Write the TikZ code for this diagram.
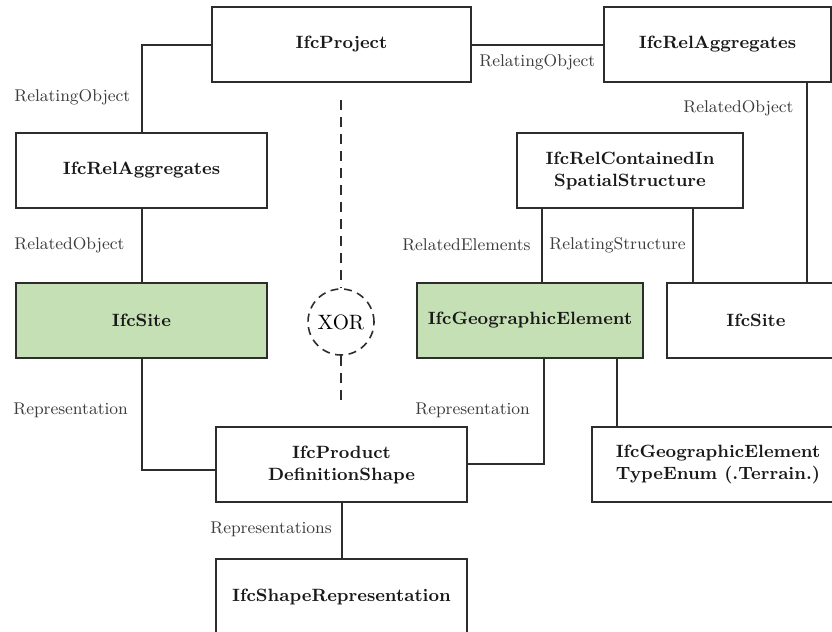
\documentclass[tikz,border=0pt]{standalone}
\usepackage{xcolor}
\definecolor{sitegreen}{RGB}{197,224,180}
\definecolor{linegray}{RGB}{45,45,45}
\definecolor{labelgray}{RGB}{60,60,60}
\begin{document}
\begin{tikzpicture}[x=0.5pt,y=-0.5pt,
  entity/.style={draw=linegray, line width=1pt, fill=white, inner sep=0pt, outer sep=0pt,
    minimum height=37.5pt, align=center, text=black!90,
    font=\fontsize{8.9}{11}\selectfont\bfseries},
  green/.style={fill=sitegreen},
  conn/.style={draw=linegray, line width=1pt},
  role/.style={inner sep=0pt, text=labelgray, font=\fontsize{8.5}{11}\selectfont},
  xorline/.style={draw=linegray, line width=1pt, dash pattern=on 5pt off 3.5pt},
  xorcircle/.style={circle, draw=linegray, line width=0.8pt, dash pattern=on 4pt off 2.8pt,
    minimum size=33pt, inner sep=0pt, font=\fontsize{10.4}{12}\selectfont}]
\useasboundingbox (0,0) rectangle (832,632);

% entities
\node[entity, minimum width=129.5pt] (proj) at (341.5,44.5) {IfcProject};
\node[entity, minimum width=113.5pt] (ragR) at (717.5,44.5) {IfcRelAggregates};
\node[entity, minimum width=125.5pt] (ragL) at (141.5,170.5) {IfcRelAggregates};
\node[entity, minimum width=113pt] (relC) at (630,170.5) {IfcRelContainedIn\\SpatialStructure};
\node[entity, green, minimum width=125.5pt] (siteL) at (141.5,320.5) {IfcSite};
\node[entity, green, minimum width=113pt] (geo) at (530,320.5) {IfcGeographicElement};
\node[entity, minimum width=89pt] (siteR) at (756,320.5) {IfcSite};
\node[entity, minimum width=125.5pt] (pds) at (341.5,464.5) {IfcProduct\\DefinitionShape};
\node[entity, minimum width=126pt] (tenum) at (718,464.5) {IfcGeographicElement\\TypeEnum (.Terrain.)};
\node[entity, minimum width=125.5pt] (shape) at (341.5,596.5) {IfcShapeRepresentation};

% exclusive choice marker
\node[xorcircle] (xor) at (341,322) {XOR};
\coordinate (xtop) at (341,100);
\coordinate (xbot) at (341,406);
\draw[xorline] (xtop) -- (xor.north);
\draw[xorline] (xor.south) -- (xbot);

% connectors
\draw[conn] (proj.west) -| (ragL.north);
\draw[conn] (proj.east) -- (ragR.west);
\draw[conn] (ragL.south) -- (siteL.north);
\draw[conn] ([xshift=-12pt]ragR.south east) -- ([xshift=-12pt]ragR.south east |- siteR.north);
\draw[conn] ([xshift=12.5pt]relC.south west) -- ([xshift=12.5pt]relC.south west |- geo.north);
\draw[conn] ([xshift=-25pt]relC.south east) -- ([xshift=-25pt]relC.south east |- siteR.north);
\draw[conn] (siteL.south) |- ([yshift=-2.5pt]pds.west);
\draw[conn] ([xshift=7pt]geo.south) |- ([yshift=0.5pt]pds.east);
\draw[conn] ([xshift=-13pt]geo.south east) -- ([xshift=-13pt]geo.south east |- tenum.north);
\draw[conn] (pds.south) -- (shape.north);

% role labels
\node[role, anchor=west] (l1) at (14,97) {RelatingObject};
\node[role, anchor=west] (l2) at (479,62) {RelatingObject};
\node[role, anchor=west] (l3) at (14,245) {RelatedObject};
\node[role, anchor=west] (l4) at (683,108) {RelatedObject};
\node[role, anchor=east] (l5) at (531,245) {RelatedElements};
\node[role, anchor=west] (l6) at (549,245) {RelatingStructure};
\node[role, anchor=west] (l7) at (13,410) {Representation};
\node[role, anchor=west] (l8) at (415,410) {Representation};
\node[role, anchor=west] (l9) at (210,529) {Representations};
\end{tikzpicture}
\end{document}
